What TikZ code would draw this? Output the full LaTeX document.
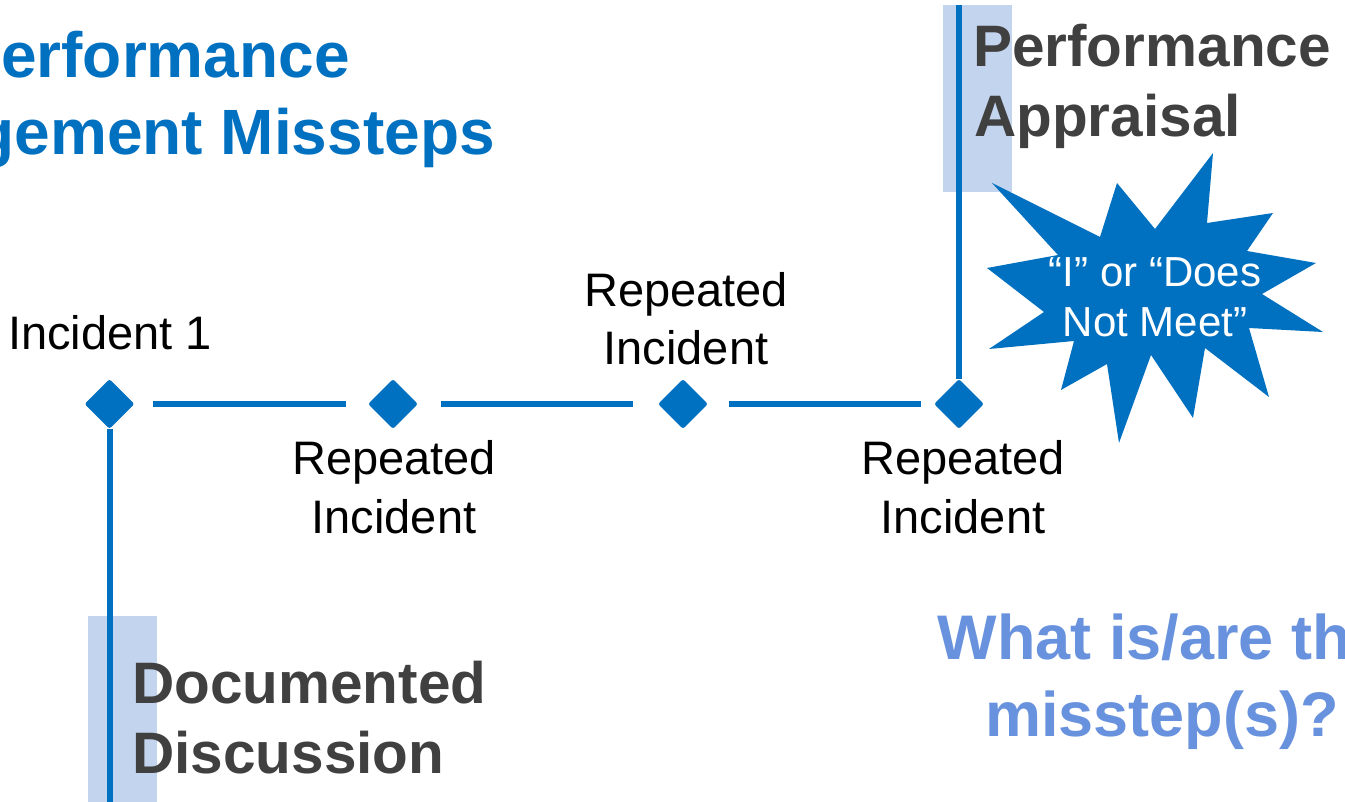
\documentclass[tikz,border=0pt]{standalone}
\usepackage{fontspec}
\setmainfont{Liberation Sans}
\usetikzlibrary{shapes.geometric}
\definecolor{mainblue}{RGB}{0,112,192}
\definecolor{lightbar}{RGB}{195,212,238}
\definecolor{headgray}{RGB}{64,64,64}
\definecolor{qblue}{RGB}{104,146,221}
\begin{document}
\begin{tikzpicture}[x=1pt,y=-1pt,
  marker/.style={diamond, fill=mainblue, inner sep=0pt, minimum width=50pt, minimum height=50pt, rounded corners=2.5pt},
  conn/.style={draw=mainblue, line width=6pt},
  lbl/.style={inner sep=0pt, anchor=base, font=\fontsize{47}{56}\selectfont},
  head/.style={inner sep=0pt, anchor=base west, text=headgray, font=\fontsize{58.5}{70}\selectfont\bfseries},
  ttl/.style={inner sep=0pt, anchor=base east, text=mainblue, font=\fontsize{64}{77}\selectfont\bfseries},
  ques/.style={inner sep=0pt, anchor=base, text=qblue, font=\fontsize{63}{77}\selectfont\bfseries},
  startxt/.style={inner sep=0pt, anchor=base, text=white, font=\fontsize{42}{50}\selectfont},
  bar/.style={fill=lightbar}]
\clip (0,0) rectangle (1345,802);
\fill[white] (0,0) rectangle (1345,802);

% light bars
\fill[bar] (943,5) rectangle (1012,192);
\fill[bar] (88,616) rectangle (157,802);

% title
\node[ttl] (t1) at (350,78) {Performance};
\node[ttl] (t2) at (495,155) {Management Missteps};

% diamonds
\node[marker] (d1) at (109.5,404) {};
\node[marker] (d2) at (393,404) {};
\node[marker] (d3) at (683,404) {};
\node[marker] (d4) at (959,404) {};

% connectors
\draw[conn, shorten <=18pt, shorten >=22pt] (d1) -- (d2);
\draw[conn, shorten <=23pt, shorten >=25pt] (d2) -- (d3);
\draw[conn, shorten <=21pt, shorten >=13pt] (d3) -- (d4);
\coordinate (ptop) at (959,5);
\coordinate (dbot) at (109.5,802);
\draw[conn] (ptop) -- (d4.north);
\draw[conn] (d1.south) -- (dbot);

% labels
\node[lbl] (l1) at (110,350) {Incident 1};
\node[lbl] (l2a) at (394,475) {Repeated};
\node[lbl] (l2b) at (394,533) {Incident};
\node[lbl] (l3a) at (686,307) {Repeated};
\node[lbl] (l3b) at (686,365) {Incident};
\node[lbl] (l4a) at (963,475) {Repeated};
\node[lbl] (l4b) at (963,533) {Incident};

% headings
\node[head] (pa1) at (973,67) {Performance};
\node[head] (pa2) at (974,137) {Appraisal};
\node[head] (dd1) at (132,703) {Documented};
\node[head] (dd2) at (132,773) {Discussion};

% starburst
\fill[mainblue] (992,183) -- (1100,237) -- (1117,183) -- (1155,229) -- (1213,153)
  -- (1207,223) -- (1273,213) -- (1247,251) -- (1316,263) -- (1262,294)
  -- (1323,332) -- (1249,328) -- (1269,397) -- (1205,348) -- (1193,418)
  -- (1151,355) -- (1119,443) -- (1107,364) -- (1061,390) -- (1074,341)
  -- (989,349) -- (1044,312) -- (987,268) -- (1058,255) -- cycle;
\node[startxt] (s1) at (1155,287) {“I” or “Does};
\node[startxt] (s2) at (1155,337) {Not Meet”};

% question
\node[ques] (q1) at (1162,659) {What is/are the};
\node[ques] (q2) at (1162,736) {misstep(s)?};
\end{tikzpicture}
\end{document}
